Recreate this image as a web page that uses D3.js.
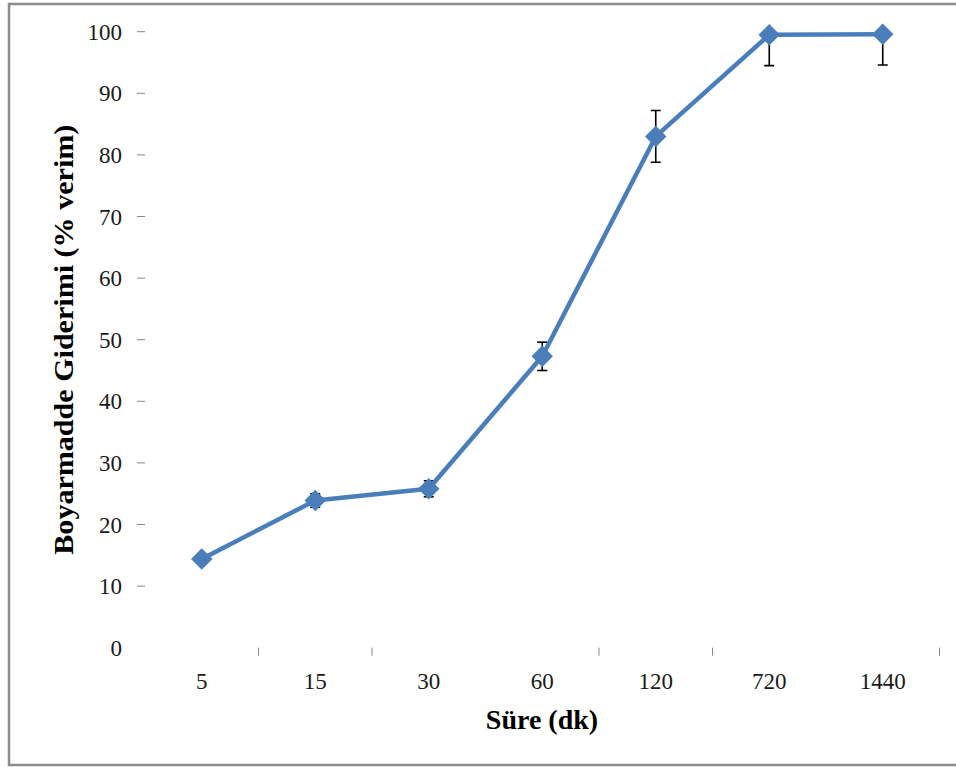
<!DOCTYPE html>
<html>
<head>
<meta charset="utf-8">
<script src="https://cdn.jsdelivr.net/npm/d3@7"></script>
<style>
  html, body { margin: 0; padding: 0; background: #fff; }
  svg { display: block; }
</style>
</head>
<body>
<svg id="chart" width="956" height="767"></svg>
<script>
// Süre (dk) categories and mean dye removal (%) with standard deviations
const categories = ["5", "15", "30", "60", "120", "720", "1440"];
const removal = [14.4, 23.9, 25.8, 47.3, 83.0, 99.5, 99.6];
const deviation = [0.4, 1.1, 1.3, 2.3, 4.2, 5.0, 5.0];
const yTicks = [0, 10, 20, 30, 40, 50, 60, 70, 80, 90, 100];
// category boundaries that carry a tick mark on the horizontal axis
const xTickBoundaries = [1, 2, 4, 5, 7];

const svg = d3.select("#chart");
const W = 956, H = 767;
const plot = { left: 145, right: 939.5, top: 31.7, bottom: 647.7 };

const x = d3.scaleBand().domain(categories).range([plot.left, plot.right]).padding(0);
const y = d3.scaleLinear().domain([0, 100]).range([plot.bottom, plot.top]);

const blue = "#4a7ebb";
const serif = "'Liberation Serif', 'Times New Roman', serif";

// outer frame
svg.append("rect")
  .attr("x", 9).attr("y", 4)
  .attr("width", W + 20).attr("height", 761)
  .attr("fill", "none").attr("stroke", "#8c8c8c").attr("stroke-width", 2.5);

// y axis: short tick marks and labels
const yg = svg.append("g");
yg.selectAll("line").data(yTicks.filter(d => d > 0)).join("line")
  .attr("x1", 137).attr("x2", 145)
  .attr("y1", d => y(d)).attr("y2", d => y(d))
  .attr("stroke", "#868686").attr("stroke-width", 1);
yg.selectAll("text").data(yTicks).join("text")
  .attr("x", 122).attr("y", d => y(d))
  .attr("dy", "0.35em")
  .attr("text-anchor", "end")
  .attr("font-family", serif).attr("font-size", 23)
  .attr("fill", "#1a1a1a")
  .text(d => d);

// x axis: tick marks between categories and labels
const xg = svg.append("g");
const step = x.step();
xg.selectAll("line").data(xTickBoundaries).join("line")
  .attr("x1", k => plot.left + k * step).attr("x2", k => plot.left + k * step)
  .attr("y1", plot.bottom).attr("y2", plot.bottom + 8)
  .attr("stroke", "#868686").attr("stroke-width", 1);
xg.selectAll("text").data(categories).join("text")
  .attr("x", d => x(d) + x.bandwidth() / 2)
  .attr("y", 681)
  .attr("dy", "0.35em")
  .attr("text-anchor", "middle")
  .attr("font-family", serif).attr("font-size", 23)
  .attr("fill", "#1a1a1a")
  .text(d => d);

// axis titles
svg.append("text")
  .attr("x", 542).attr("y", 719)
  .attr("dy", "0.35em")
  .attr("text-anchor", "middle")
  .attr("font-family", serif).attr("font-size", 28).attr("font-weight", "bold")
  .attr("fill", "#000")
  .text("Süre (dk)");

svg.append("text")
  .attr("transform", `translate(63, ${(plot.top + plot.bottom) / 2}) rotate(-90)`)
  .attr("dy", "0.35em")
  .attr("text-anchor", "middle")
  .attr("font-family", serif).attr("font-size", 28).attr("font-weight", "bold")
  .attr("fill", "#000")
  .attr("textLength", 430).attr("lengthAdjust", "spacingAndGlyphs")
  .text("Boyarmadde Giderimi (% verim)");

// data
const pts = categories.map((c, i) => ({ c, v: removal[i], e: deviation[i] }));
const cx = d => x(d.c) + x.bandwidth() / 2;

// error bars, clipped to the plotting area
svg.append("clipPath").attr("id", "plotClip")
  .append("rect")
  .attr("x", plot.left).attr("y", plot.top)
  .attr("width", plot.right - plot.left).attr("height", plot.bottom - plot.top);

const eb = svg.append("g").attr("clip-path", "url(#plotClip)")
  .attr("stroke", "#000").attr("stroke-width", 1.6);
pts.forEach(d => {
  const xc = cx(d), y1 = y(d.v + d.e), y2 = y(d.v - d.e);
  eb.append("line").attr("x1", xc).attr("x2", xc).attr("y1", y1).attr("y2", y2);
  eb.append("line").attr("x1", xc - 5).attr("x2", xc + 5).attr("y1", y1).attr("y2", y1);
  eb.append("line").attr("x1", xc - 5).attr("x2", xc + 5).attr("y1", y2).attr("y2", y2);
});

// series line
const line = d3.line().x(cx).y(d => y(d.v));
svg.append("path").datum(pts)
  .attr("d", line)
  .attr("fill", "none").attr("stroke", blue).attr("stroke-width", 4.5)
  .attr("stroke-linejoin", "round");

// diamond markers
svg.selectAll("path.marker").data(pts).join("path")
  .attr("class", "marker")
  .attr("transform", d => `translate(${cx(d)}, ${y(d.v)}) rotate(45)`)
  .attr("d", d3.symbol().type(d3.symbolSquare).size(230))
  .attr("fill", blue);
</script>
</body>
</html>
